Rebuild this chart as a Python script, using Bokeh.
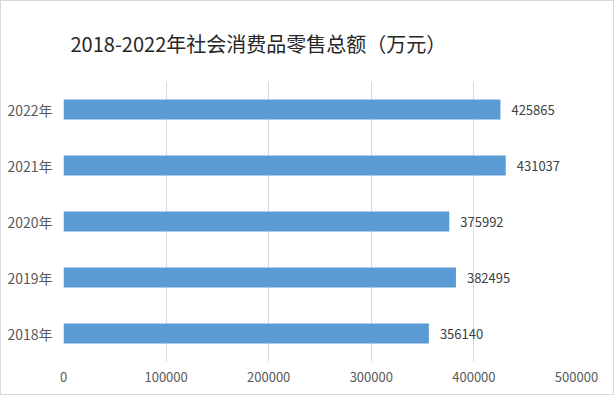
from bokeh.plotting import figure
from bokeh.models import ColumnDataSource, FactorRange, Range1d, FixedTicker, LabelSet, Title
from bokeh.core.properties import value
from bokeh.embed import file_html
from bokeh.resources import INLINE

years = ["2018年", "2019年", "2020年", "2021年", "2022年"]
values = [356140, 382495, 375992, 431037, 425865]
x_ticks = [0, 100000, 200000, 300000, 400000, 500000]
title_text = "2018-2022年社会消费品零售总额（万元）"

src = ColumnDataSource(dict(y=years, v=values, lab=[str(v) for v in values]))

p = figure(width=614, height=395, output_backend="svg", toolbar_location=None,
           y_range=FactorRange(factors=years, range_padding=0),
           x_range=Range1d(0, 500000),
           min_border_left=62, min_border_right=39, min_border_top=80, min_border_bottom=35)
p.title = None
t = Title(text=title_text, align="left", offset=7, text_font="Noto Sans CJK SC",
          text_font_size="20px", text_font_style="normal", text_color="#262626", standoff=47)
p.add_layout(t, "above")

p.hbar(y="y", right="v", height=0.36, source=src, color="#5B9BD5", line_color=None)
labels = LabelSet(x="v", y="y", text="lab", source=src, x_offset=11, text_align="left",
                  text_baseline="middle", text_font=value("Noto Sans CJK SC"),
                  text_font_size=value("13px"), text_color=value("#404040"))
p.add_layout(labels)

p.outline_line_color = None
p.ygrid.grid_line_color = None
p.xgrid.grid_line_color = "#D9D9D9"
p.xaxis.ticker = FixedTicker(ticks=x_ticks)
p.xaxis.major_label_overrides = {v: str(v) for v in x_ticks}
for ax in (p.xaxis[0], p.yaxis[0]):
    ax.axis_line_color = None
    ax.major_tick_line_color = None
    ax.minor_tick_line_color = None
    ax.major_tick_out = 0
    ax.minor_tick_out = 0
    ax.major_label_text_font = "Noto Sans CJK SC"
    ax.major_label_text_font_size = "13px"
    ax.major_label_text_color = "#595959"
p.yaxis.major_label_text_font_size = "14px"
p.xaxis.major_label_standoff = 10
p.yaxis.major_label_standoff = 11
p.styles = {"border": "1px solid #D9D9D9", "box-sizing": "border-box"}

open("out.html", "w").write(file_html(p, INLINE))
